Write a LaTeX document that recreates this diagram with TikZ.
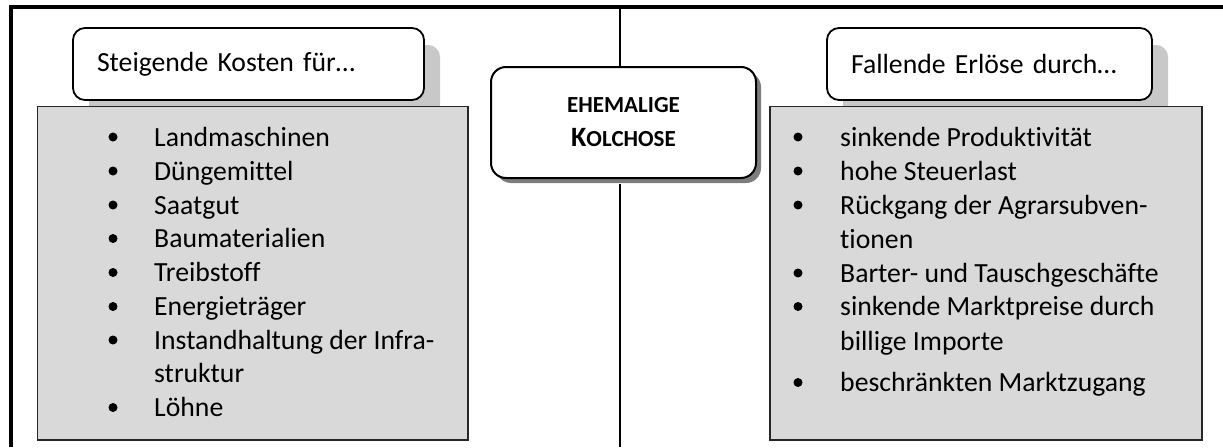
\documentclass[tikz,border=0pt]{standalone}
\usepackage{fontspec}
\setmainfont{Carlito}[Ligatures={NoCommon}]
\usetikzlibrary{shadows}
\definecolor{kastengrau}{RGB}{217,217,217}
\definecolor{schattengrau}{RGB}{200,200,200}
\definecolor{kernschatten}{RGB}{125,125,125}
\newcommand{\schrift}{\fontsize{27.7}{33.9}\selectfont}

\begin{document}
\begin{tikzpicture}[x=1pt,y=-1pt]

%
% Styles
%
\tikzstyle{titel} = [rectangle,rounded corners=12pt,draw,line width=1.8pt,fill=white,
  minimum height=72pt,inner xsep=24pt,align=left,font=\schrift,
  drop shadow={shadow xshift=16pt,shadow yshift=-17pt,fill=schattengrau,opacity=1}]
\tikzstyle{kasten} = [rectangle,draw=black!85,line width=1.5pt,fill=kastengrau,minimum height=333.5pt]
\tikzstyle{kern} = [rectangle,rounded corners=15pt,draw,line width=2pt,fill=white,
  minimum width=265pt,minimum height=111pt,align=center,font=\bfseries\fontsize{23}{34}\selectfont,
  drop shadow={shadow xshift=5pt,shadow yshift=-5pt,fill=kernschatten,opacity=1}]
\tikzstyle{punkt} = [circle,fill,inner sep=0pt,minimum size=9pt]
\tikzstyle{eintrag} = [anchor=base west,inner sep=0pt,font=\schrift]
\tikzstyle{linie} = [line width=1.5pt]

\useasboundingbox (0,0) rectangle (1223,447);

% frame
\draw[line width=4pt] (11,447) -- (11,7) -- (1223,7);

\node[titel,text width=303pt] (kosten) at (248.5,64) {Steigende Kosten für…};
\node[titel,text width=277pt] (erloese) at (989.5,64) {Fallende Erlöse durch…};

\node[kasten,minimum width=430.5pt] (links) at (252.75,273.25) {};
\node[kasten,minimum width=432pt] (rechts) at (986,273.25) {};

\node[kern] (kolchose) at (623.5,122.5) {EHEMALIGE\\{\fontsize{28}{34}\selectfont K}OLCHOSE};

\coordinate (oben) at (620,9);
\coordinate (unten) at (620,447);
\coordinate (kfuss) at ([yshift=-5pt]kolchose.south);
\draw[linie] (oben) -- (oben |- kolchose.north);
\draw[linie] (kfuss -| unten) -- (unten);

% left list
\node[punkt] (pl1) at (113,137) {};
\node[eintrag] (tl1) at (154,146) {Landmaschinen};
\node[punkt] (pl2) at (113,171) {};
\node[eintrag] (tl2) at (154,180) {Düngemittel};
\node[punkt] (pl3) at (113,205) {};
\node[eintrag] (tl3) at (154,214) {Saatgut};
\node[punkt] (pl4) at (113,238.5) {};
\node[eintrag] (tl4) at (154,247.5) {Baumaterialien};
\node[punkt] (pl5) at (113,272.5) {};
\node[eintrag] (tl5) at (154,281.5) {Treibstoff};
\node[punkt] (pl6) at (113,306.5) {};
\node[eintrag] (tl6) at (154,315.5) {Energieträger};
\node[punkt] (pl7) at (113,340) {};
\node[eintrag] (tl7) at (154,349) {Instandhaltung der Infra-};
\node[eintrag] (tl7b) at (154,382.5) {struktur};
\node[punkt] (pl8) at (113,407.5) {};
\node[eintrag] (tl8) at (154,416.5) {Löhne};

% right list
\node[punkt] (pr1) at (798,137) {};
\node[eintrag] (tr1) at (840,146) {sinkende Produktivität};
\node[punkt] (pr2) at (798,171) {};
\node[eintrag] (tr2) at (840,180) {hohe Steuerlast};
\node[punkt] (pr3) at (798,205) {};
\node[eintrag] (tr3) at (840,214) {Rückgang der Agrarsubven-};
\node[eintrag] (tr3b) at (840,248) {tionen};
\node[punkt] (pr4) at (798,273) {};
\node[eintrag] (tr4) at (840,282) {Barter- und Tauschgeschäfte};
\node[punkt] (pr5) at (798,306.5) {};
\node[eintrag] (tr5) at (840,315.5) {sinkende Marktpreise durch};
\node[eintrag] (tr5b) at (840,350.5) {billige Importe};
\node[punkt] (pr6) at (798,382.5) {};
\node[eintrag] (tr6) at (840,391.5) {beschränkten Marktzugang};

\end{tikzpicture}
\end{document}
